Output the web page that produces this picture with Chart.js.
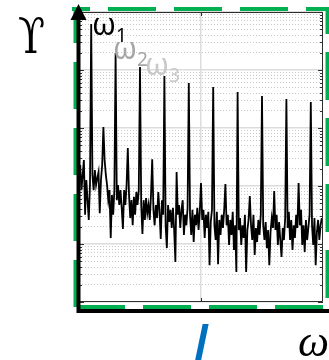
<!DOCTYPE html>
<html>
<head>
<meta charset="utf-8">
<script src="https://cdn.jsdelivr.net/npm/chart.js@4.4.1/dist/chart.umd.min.js"></script>
<style>
  html, body { margin: 0; padding: 0; background: #fff; overflow: hidden; }
  #wrap { position: relative; width: 329px; height: 360px; overflow: hidden; }
  canvas { position: absolute; left: 0; top: 0; }
  .lbl { position: absolute; white-space: nowrap; line-height: 1; }
  .w { font-family: "Noto Sans", sans-serif; font-size: 30px; }
  .w sub { font-size: 19px; vertical-align: baseline; position: relative; top: 7px; }
  #upsilon { left: 18px; top: 12px; font-family: "DejaVu Serif", serif; font-size: 48px; color: #000; transform: scaleX(0.82); transform-origin: left top; }
  #w1 { left: 92px; top: 9px; color: #000; }
  #w2 { left: 113px; top: 33px; color: #a6a6a6; }
  #w3 { left: 145px; top: 49px; color: #c8c8c8; }
  #current { left: 193px; top: 316px; font-family: "Open Sans", sans-serif; font-style: italic; font-weight: 600; font-size: 52px; color: #0070c0; }
  #omega { left: 298px; top: 320px; font-family: "Liberation Serif", serif; font-style: italic; font-size: 44px; color: #000; }
</style>
</head>
<body>
<div id="wrap">
  <canvas id="c" width="329" height="360"></canvas>
  <div class="lbl" id="upsilon">ϒ</div>
  <div class="lbl w" id="w1">ω<sub>1</sub></div>
  <div class="lbl w" id="w2">ω<sub>2</sub></div>
  <div class="lbl w" id="w3">ω<sub>3</sub></div>
  <div class="lbl" id="current">I</div>
  <div class="lbl" id="omega">ω</div>
</div>
<script>
// Sampling step of the spectrum along the frequency axis
const STEP = 0.05;

// Spectral amplitude per sample (log axis); harmonics sit at 0.5, 1.5, 2.5 ...
const gamma = [
  2.3e-3, 8.5e-4, 1.55e-3, 2.8e-3, 3.2e-4, 1.27e-3, 5.7e-4, 2.6e-4, 1.04e-3, 0.621,
  1.55e-3, 8.5e-4, 1.89e-3, 1.04e-3, 1.37e-3, 1.74e-3, 3.4e-4, 1.27e-3, 2.3e-3, 1.04e-2,
  2.8e-3, 1.55e-3, 1.04e-3, 5.7e-4, 8.5e-4, 1.27e-4, 7.0e-4, 3.2e-4, 8.5e-4, 0.196,
  5.7e-4, 1.04e-3, 4.7e-4, 8.5e-4, 4.2e-4, 1.81e-4, 8.5e-4, 4.7e-4, 1.04e-3, 4.5e-3,
  7.0e-4, 2.8e-4, 5.7e-4, 2.1e-4, 6.5e-4, 3.2e-4, 7.9e-4, 4.7e-4, 8.5e-4, 0.113,
  4.7e-4, 1.49e-4, 5.7e-4, 2.6e-4, 6.2e-4, 3.4e-4, 4.7e-4, 2.6e-4, 7.0e-4, 2.9e-3,
  3.9e-4, 2.1e-4, 4.7e-4, 2.8e-4, 7.9e-4, 3.6e-4, 1.22e-4, 5.7e-4, 3.2e-4, 0.0788,
  2.1e-4, 8.5e-5, 4.7e-4, 2.4e-4, 3.9e-4, 1.89e-4, 4.2e-4, 1.74e-4, 4.9e-5, 1.74e-3,
  3.2e-4, 4.7e-4, 1.89e-4, 3.9e-4, 5.7e-4, 1.43e-4, 3.2e-4, 2.1e-4, 4.2e-4, 0.0597,
  3.2e-4, 1.43e-4, 3.9e-4, 1.08e-4, 3.2e-4, 2.1e-4, 4.2e-4, 1.74e-4, 3.6e-4, 1.13e-3,
  2.6e-4, 3.9e-4, 1.27e-4, 3.2e-4, 1.89e-4, 3.6e-4, 4.3e-5, 2.4e-4, 3.9e-4, 0.0509,
  2.1e-4, 1.17e-4, 3.6e-4, 4.5e-5, 2.6e-4, 1.43e-4, 3.2e-4, 1.89e-4, 3.9e-4, 1.08e-3,
  2.1e-4, 3.2e-4, 9.6e-5, 2.6e-4, 1.43e-4, 3.6e-4, 7.9e-5, 2.1e-4, 3.3e-5, 0.0418,
  1.74e-4, 2.8e-4, 9.6e-5, 2.1e-4, 1.27e-4, 3.2e-4, 3.3e-5, 1.74e-4, 2.6e-4, 6.7e-4,
  2.1e-4, 1.17e-4, 3.2e-4, 6.5e-5, 1.89e-4, 1.08e-4, 2.6e-4, 1.43e-4, 3.2e-4, 0.0356,
  2.1e-4, 1.17e-4, 2.4e-4, 8.5e-5, 1.74e-4, 4.3e-5, 1.61e-4, 2.8e-4, 1.89e-4, 8.2e-4,
  1.74e-4, 3.2e-4, 9.6e-5, 2.4e-4, 1.17e-4, 6.0e-5, 1.89e-4, 1.17e-4, 2.8e-4, 0.0316,
  1.89e-4, 3.6e-4, 1.17e-4, 2.6e-4, 7.9e-5, 2.1e-4, 1.27e-4, 3.2e-4, 1.89e-4, 1.13e-3,
  2.1e-4, 3.9e-4, 9.6e-5, 2.1e-4, 7.3e-5, 2.6e-4, 1.17e-4, 1.89e-4, 3.2e-4, 0.0281,
  2.1e-4, 9.6e-5, 2.8e-4, 4.3e-5, 1.61e-4, 2.6e-4, 1.17e-4, 2.1e-4, 2.8e-4
];

// Axis ranges
const X_RANGE = [0, 10];
const X_GRID = [0, 5, 10];
const Y_DECADES = [-5, -4, -3, -2, -1, 0];

const omega = gamma.map((_, i) => (i + 1) * STEP);
const points = omega.map((x, i) => ({ x, y: gamma[i] }));

function logTicks(scale) {
  const ticks = [];
  Y_DECADES.forEach(e => {
    for (let s = 1; s <= 9; s++) {
      const v = s * Math.pow(10, e);
      if (v > Math.pow(10, Y_DECADES[Y_DECADES.length - 1]) * 1.0001) break;
      ticks.push({ value: v, major: s === 1 });
    }
  });
  scale.ticks = ticks;
}

const CLEAR = 'rgba(0,0,0,0)';

// Frame, inward tick marks, dashed green outline and the black arrowed axes
const decorations = {
  id: 'decorations',
  afterDatasetsDraw(chart) {
    const { ctx, chartArea: a, scales } = chart;
    ctx.save();
    ctx.strokeStyle = '#2e2e2e';
    ctx.lineWidth = 1;
    ctx.beginPath();
    ctx.moveTo(a.left, a.top + 0.5);
    ctx.lineTo(a.right - 0.5, a.top + 0.5);
    ctx.lineTo(a.right - 0.5, a.bottom - 0.5);
    ctx.lineTo(a.left, a.bottom - 0.5);
    ctx.stroke();
    ctx.beginPath();
    scales.y.ticks.forEach(t => {
      const py = Math.round(scales.y.getPixelForValue(t.value)) + 0.5;
      const len = t.major ? 5 : 3;
      ctx.moveTo(a.left, py); ctx.lineTo(a.left + len, py);
      ctx.moveTo(a.right, py); ctx.lineTo(a.right - len, py);
    });
    const px = Math.round(scales.x.getPixelForValue(X_GRID[1])) + 0.5;
    ctx.moveTo(px, a.top); ctx.lineTo(px, a.top + 4);
    ctx.moveTo(px, a.bottom); ctx.lineTo(px, a.bottom - 4);
    ctx.stroke();
    ctx.restore();
  },
  afterDraw(chart) {
    const { ctx, chartArea: a, width } = chart;
    ctx.save();
    // dashed green outline
    ctx.strokeStyle = '#00b050';
    ctx.lineWidth = 4;
    ctx.lineCap = 'butt';
    const side = (x1, y1, x2, y2, dash, off) => {
      ctx.setLineDash(dash);
      ctx.lineDashOffset = off;
      ctx.beginPath();
      ctx.moveTo(x1, y1);
      ctx.lineTo(x2, y2);
      ctx.stroke();
    };
    side(a.left - 7, a.top - 3, width, a.top - 3, [48, 18], 30);
    side(a.left - 2, a.bottom + 5, width, a.bottom + 5, [48, 18], 0);
    side(a.left - 3.5, a.top - 5, a.left - 3.5, a.bottom + 7, [47, 19], 11);
    side(a.right + 4.5, a.top - 5, a.right + 4.5, a.bottom + 7, [48, 18], 21);
    ctx.setLineDash([]);
    // black axes
    ctx.strokeStyle = '#000';
    ctx.fillStyle = '#000';
    ctx.lineWidth = 4;
    const ax = a.left - 0.5;
    ctx.beginPath();
    ctx.moveTo(ax, a.top + 6);
    ctx.lineTo(ax, a.bottom + 11);
    ctx.moveTo(ax - 2, a.bottom + 9);
    ctx.lineTo(width, a.bottom + 9);
    ctx.stroke();
    ctx.beginPath();
    ctx.moveTo(ax, a.top - 8);
    ctx.lineTo(ax - 8, a.top + 8);
    ctx.lineTo(ax + 8, a.top + 8);
    ctx.closePath();
    ctx.fill();
    ctx.restore();
  }
};

new Chart(document.getElementById('c'), {
  type: 'line',
  data: {
    datasets: [{
      data: points,
      borderColor: '#000',
      borderWidth: 1.8,
      pointRadius: 0,
      tension: 0,
      fill: false
    }]
  },
  options: {
    responsive: false,
    animation: false,
    events: [],
    layout: { padding: { left: 79, right: 6, top: 12, bottom: 58 } },
    plugins: { legend: { display: false }, tooltip: { enabled: false } },
    scales: {
      x: {
        type: 'linear', min: X_RANGE[0], max: X_RANGE[1],
        afterBuildTicks: s => { s.ticks = X_GRID.map(v => ({ value: v })); },
        ticks: { display: false },
        grid: { drawTicks: false, lineWidth: 1.5, color: c => (c.tick && c.tick.value === X_GRID[1]) ? '#dcdcdc' : CLEAR },
        border: { display: false }
      },
      y: {
        type: 'logarithmic', min: 1e-5, max: 1,
        afterBuildTicks: logTicks,
        ticks: { display: false },
        grid: { drawTicks: false, lineWidth: 1.5, color: c => (c.tick && c.tick.major) ? '#dcdcdc' : CLEAR },
        border: { display: false }
      },
      yMinor: {
        type: 'logarithmic', position: 'left', min: 1e-5, max: 1,
        afterBuildTicks: logTicks,
        ticks: { display: false },
        grid: { drawTicks: false, lineWidth: 1, color: c => (c.tick && !c.tick.major) ? '#c8c8c8' : CLEAR },
        border: { display: false, dash: [1, 2] }
      }
    }
  },
  plugins: [decorations]
});
</script>
</body>
</html>
